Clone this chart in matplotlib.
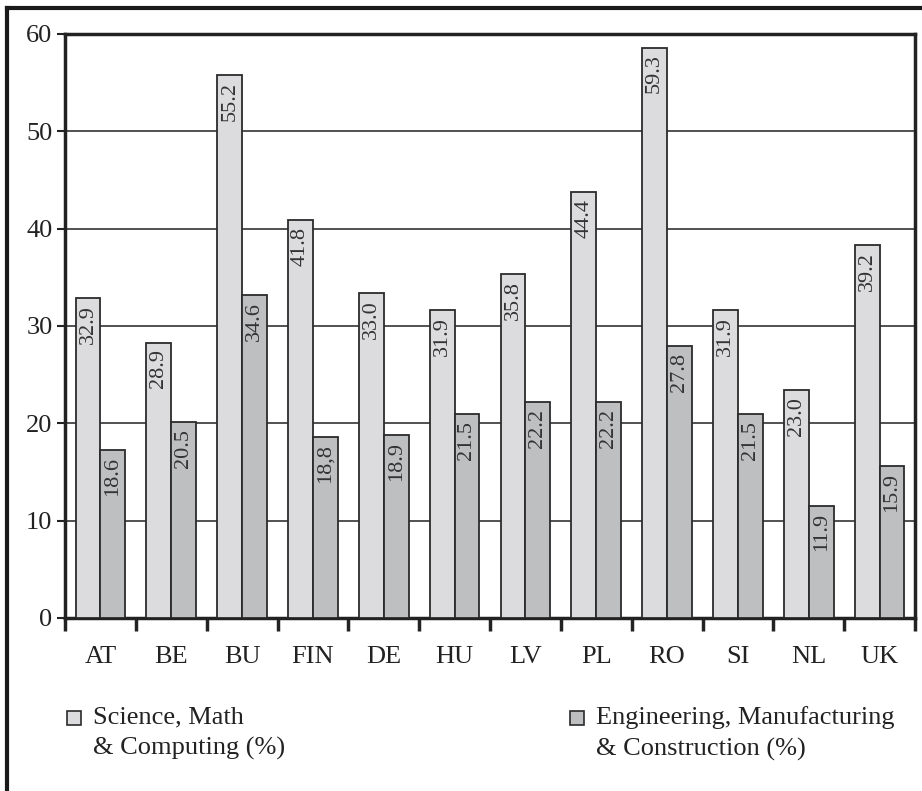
import matplotlib
matplotlib.use("Agg")
import matplotlib.pyplot as plt
import numpy as np
from matplotlib.patches import Rectangle
from matplotlib.lines import Line2D

countries = ["AT", "BE", "BU", "FIN", "DE", "HU", "LV", "PL", "RO", "SI", "NL", "UK"]

# bar heights as drawn in the picture
sci_values = [32.9, 28.3, 55.8, 40.9, 33.4, 31.6, 35.3, 43.8, 58.6, 31.6, 23.4, 38.3]
eng_values = [17.3, 20.1, 33.2, 18.6, 18.8, 21.0, 22.2, 22.2, 27.9, 21.0, 11.5, 15.6]

# numbers printed inside the bars
sci_labels = ["32.9", "28.9", "55.2", "41.8", "33.0", "31.9", "35.8", "44.4", "59.3", "31.9", "23.0", "39.2"]
eng_labels = ["18.6", "20.5", "34.6", "18,8", "18.9", "21.5", "22.2", "22.2", "27.8", "21.5", "11.9", "15.9"]

series_names = ["Science, Math\n& Computing (%)",
                "Engineering, Manufacturing\n& Construction (%)"]
y_ticks = [0, 10, 20, 30, 40, 50, 60]

light = "#dcdcde"
dark = "#bebfc1"
edge = "#2b2b2b"

plt.rcParams['font.family'] = ['Liberation Serif', 'DejaVu Serif']

W, H = 922, 791
fig = plt.figure(figsize=(W / 100, H / 100), dpi=100)

# outer frame (top and left edges visible)
fig.add_artist(Line2D([7 / W, 1.0], [1 - 8 / H, 1 - 8 / H], color="#1a1a1a", lw=3))
fig.add_artist(Line2D([7 / W, 7 / W], [1 - 8 / H, 0.0], color="#1a1a1a", lw=3))

ax = fig.add_axes([65 / W, 1 - 618 / H, (915 - 65) / W, (618 - 34) / H])

x = np.arange(len(countries))
bw = 0.35
b1 = ax.bar(x - bw / 2, sci_values, bw, color=light, edgecolor=edge, linewidth=1.3, zorder=3)
b2 = ax.bar(x + bw / 2, eng_values, bw, color=dark, edgecolor=edge, linewidth=1.3, zorder=3)

for bars, labels in ((b1, sci_labels), (b2, eng_labels)):
    for rect, lab in zip(bars, labels):
        ax.annotate(lab, (rect.get_x() + rect.get_width() / 2, rect.get_height()),
                    xytext=(0, -5), textcoords="offset points",
                    rotation=90, ha="center", va="top",
                    fontsize=16, color="#333333", zorder=4)

ax.set_xlim(-0.5, len(countries) - 0.5)
ax.set_ylim(0, 60)
ax.set_yticks(y_ticks)
ax.set_yticklabels([str(v) for v in y_ticks], fontsize=19, color="#222222")
ax.yaxis.grid(True, color="#333333", linewidth=1.2, zorder=0)
ax.set_axisbelow(True)

ax.set_xticks(np.arange(len(countries) + 1) - 0.5)
ax.set_xticklabels([])
ax.set_xticks(x, minor=True)
ax.set_xticklabels(countries, minor=True, fontsize=19, color="#222222")
ax.tick_params(axis="x", which="major", direction="out", length=9, width=2.5, color="#222222")
ax.tick_params(axis="x", which="minor", length=0, pad=20)
ax.tick_params(axis="y", direction="out", length=6, width=1.5, color="#222222", pad=3)

for s in ax.spines.values():
    s.set_color("#222222")
    s.set_linewidth(2.5)

# legend drawn by hand: square beside first line, text in two lines
leg_x = [67, 570]
for i, (name, col) in enumerate(zip(series_names, [light, dark])):
    sx = leg_x[i]
    fig.add_artist(Rectangle((sx / W, 1 - 725 / H), 14 / W, 14 / H,
                             facecolor=col, edgecolor=edge, linewidth=1.2,
                             transform=fig.transFigure))
    fig.text((sx + 26) / W, 1 - 706 / H, name, ha="left", va="top",
             fontsize=19, color="#222222", linespacing=1.5)

fig.savefig("out.png", dpi=100)
